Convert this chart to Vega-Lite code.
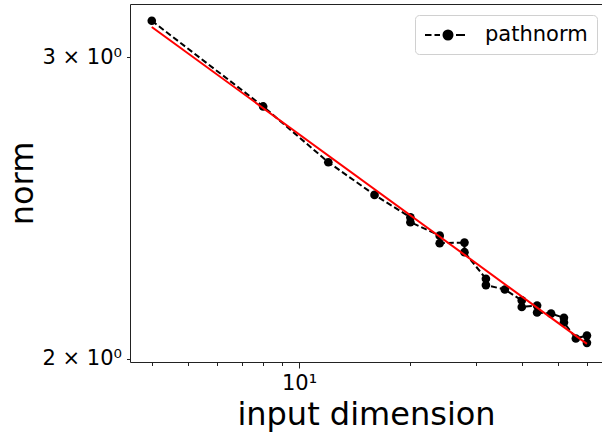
{
  "$schema": "https://vega.github.io/schema/vega-lite/v6.json",
  "autosize": "none",
  "width": 472,
  "height": 358,
  "padding": {"left": 130, "top": 4, "right": 0, "bottom": 74},
  "background": "white",
  "config": {
    "font": "DejaVu Sans",
    "view": {"stroke": null},
    "axis": {
      "domainColor": "#222",
      "tickColor": "#222",
      "labelColor": "black",
      "titleColor": "black",
      "grid": false,
      "labelFont": "DejaVu Sans",
      "titleFont": "DejaVu Sans",
      "titleFontWeight": "normal"
    }
  },
  "datasets": {
    "pts": [
      {"i": 1, "dim": 4, "norm": 3.151},
      {"i": 2, "dim": 8, "norm": 2.808},
      {"i": 3, "dim": 12, "norm": 2.605},
      {"i": 4, "dim": 16, "norm": 2.493},
      {"i": 5, "dim": 20, "norm": 2.419},
      {"i": 6, "dim": 20, "norm": 2.403},
      {"i": 7, "dim": 24, "norm": 2.360},
      {"i": 8, "dim": 24, "norm": 2.336},
      {"i": 9, "dim": 28, "norm": 2.338},
      {"i": 10, "dim": 28, "norm": 2.308},
      {"i": 11, "dim": 32, "norm": 2.227},
      {"i": 12, "dim": 32, "norm": 2.208},
      {"i": 13, "dim": 36, "norm": 2.195},
      {"i": 14, "dim": 40, "norm": 2.163},
      {"i": 15, "dim": 40, "norm": 2.144},
      {"i": 16, "dim": 44, "norm": 2.148},
      {"i": 17, "dim": 44, "norm": 2.128},
      {"i": 18, "dim": 48, "norm": 2.125},
      {"i": 19, "dim": 52, "norm": 2.113},
      {"i": 20, "dim": 52, "norm": 2.100},
      {"i": 21, "dim": 56, "norm": 2.055},
      {"i": 22, "dim": 60, "norm": 2.063},
      {"i": 23, "dim": 60, "norm": 2.043}
    ],
    "fit": [
      {"dim": 4, "norm": 3.125},
      {"dim": 60, "norm": 2.040}
    ]
  },
  "layer": [
    {
      "data": {"name": "pts"},
      "mark": {"type": "line", "color": "black", "strokeWidth": 2, "strokeDash": [6, 3]},
      "encoding": {
        "x": {
          "field": "dim", "type": "quantitative",
          "scale": {"type": "log", "domain": [3.493, 65.9], "nice": false, "zero": false},
          "axis": {
            "orient": "bottom",
            "values": [4, 5, 6, 7, 8, 9, 10, 20, 30, 40, 50, 60],
            "labelExpr": "datum.value == 10 ? '10¹' : ''",
            "tickSize": {"condition": {"test": "datum.value == 10", "value": 6}, "value": 3.5},
            "labelFontSize": 21,
            "labelPadding": 4,
            "title": "input dimension",
            "titleFontSize": 32,
            "titlePadding": 6
          }
        },
        "y": {
          "field": "norm", "type": "quantitative",
          "scale": {"type": "log", "domain": [1.991, 3.223], "nice": false, "zero": false},
          "axis": {
            "values": [2, 3],
            "labelExpr": "datum.value == 3 ? '3 × 10⁰' : '2 × 10⁰'",
            "tickSize": 3.5,
            "labelFontSize": 21,
            "labelPadding": 5,
            "title": "norm",
            "titleFontSize": 32,
            "titlePadding": 3
          }
        },
        "order": {"field": "i"}
      }
    },
    {
      "data": {"name": "pts"},
      "mark": {"type": "point", "filled": true, "opacity": 1, "size": 75},
      "encoding": {
        "x": {"field": "dim", "type": "quantitative", "axis": {"orient": "top", "values": [], "labels": false, "ticks": false, "title": null, "domain": true}},
        "y": {"field": "norm", "type": "quantitative"},
        "color": {
          "datum": "pathnorm",
          "type": "nominal",
          "scale": {"range": ["black"]},
          "legend": {
            "title": null,
            "orient": "none",
            "legendX": 285,
            "legendY": 11,
            "padding": 9,
            "fillColor": "white",
            "strokeColor": "#d0d0d0",
            "cornerRadius": 4,
            "labelFontSize": 21,
            "labelFont": "DejaVu Sans",
            "labelColor": "black",
            "labelOffset": 39,
            "symbolSize": 400,
            "symbolType": "M-1,0H-0.35M-0.05,0H0.5M2.1,0H3M1.75,0A0.45,0.45 0 1,1 0.85,0A0.45,0.45 0 1,1 1.75,0Z",
            "symbolFillColor": "black",
            "symbolStrokeColor": "black",
            "symbolStrokeWidth": 2,
            "encode": {"symbols": {"update": {"fill": {"value": "black"}, "stroke": {"value": "black"}, "strokeWidth": {"value": 2}, "opacity": {"value": 1}}}}
          }
        }
      }
    },
    {
      "data": {"name": "fit"},
      "mark": {"type": "line", "color": "red", "strokeWidth": 2},
      "encoding": {
        "x": {"field": "dim", "type": "quantitative", "axis": null},
        "y": {"field": "norm", "type": "quantitative"}
      }
    }
  ],
  "resolve": {"axis": {"x": "independent"}}
}
